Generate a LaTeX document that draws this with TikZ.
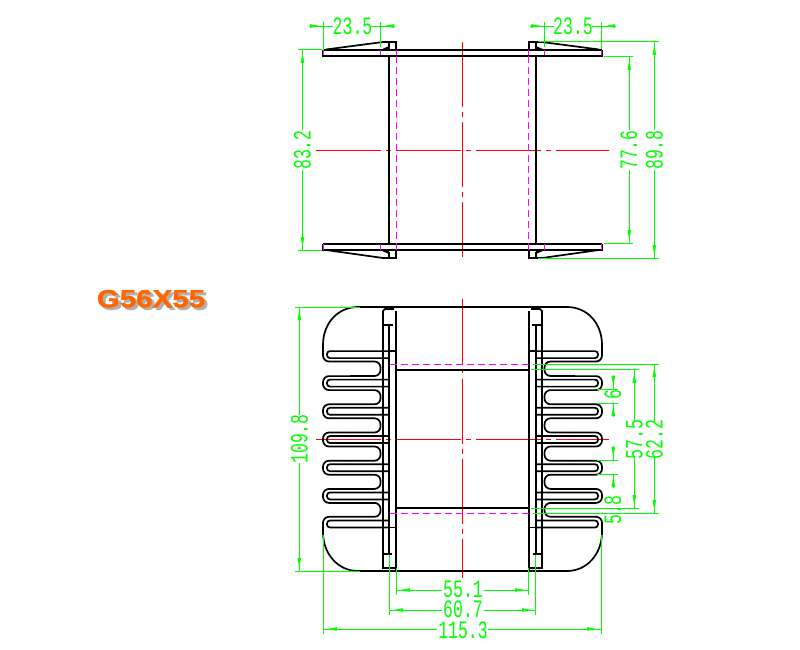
\documentclass[tikz,border=0pt]{standalone}
\usepackage{fontspec}
\usetikzlibrary{arrows.meta}
\newfontfamily\dimfont{Liberation Mono}
\newfontfamily\namefont{Liberation Sans}[BoldFont={Liberation Sans Bold}, BoldFeatures={FakeBold=1.2}]
\definecolor{dimgreen}{RGB}{0,255,0}
\definecolor{centerred}{RGB}{255,0,0}
\definecolor{hiddenpink}{RGB}{255,0,255}
\definecolor{nameorange}{RGB}{255,102,0}
\definecolor{nameshade}{RGB}{175,175,175}
\tikzset{
  outline/.style={black, line width=1.7pt},
  hidden/.style={hiddenpink, line width=1.1pt, dash pattern=on 7pt off 4pt},
  hiddentick/.style={hiddenpink, line width=1.1pt},
  centerline/.style={centerred, line width=1pt},
  dimline/.style={dimgreen, line width=0.9pt},
  dimtip/.style={dimgreen, line width=0.9pt, -{Triangle[length=10pt,width=3.4pt]}},
  dimlabel/.style={dimgreen, inner sep=0pt, font=\dimfont\fontsize{25}{25}\selectfont, xscale=0.66},
  dimlabelv/.style={dimgreen, inner sep=0pt, font=\dimfont\fontsize{25}{25}\selectfont, rotate=90, xscale=0.66}
}
% left half of both views, drawn again mirrored
\newcommand{\bobbinhalf}{
  % upper view
  \draw[outline] (323,50) -- (462.5,50) (323,50) -- (323,56) -- (462.5,56);
  \draw[outline] (323,243.7) -- (462.5,243.7) (323,243.7) -- (323,250) -- (462.5,250);
  \draw[outline] (389,56) -- (389,243.7);
  \draw[outline] (326,49.5) -- (383,42) -- (396,42) -- (396,50) (389,43) -- (389,50);
  \draw[outline] (326,250) -- (383,258) -- (396,258) -- (396,250) (389,252) -- (389,258);
  \fill (380,50) -- (389,46) -- (389,50) -- cycle;
  \fill (380,250) -- (389,250) -- (389,254) -- cycle;
  \draw[hidden] (396.3,56) -- (396.3,243.7);
  \foreach \x in {323.5,380.7,396.3} {
    \draw[hiddentick] (\x,50.5) -- (\x,55.5);
    \draw[hiddentick] (\x,244.2) -- (\x,249.5);
  }
  % lower view
  \draw[outline] (462.5,307) -- (358,307) .. controls (338,307) and (323,323) .. (323,345) -- (323,352);
  \draw[outline] (462.5,571) -- (358,571) .. controls (338,571) and (323,554) .. (323,532) -- (323,526);
  \draw[outline, rounded corners=6pt] (323,350) -- (323,361.5) -- (380.5,361.5) -- (380.5,376) -- (350,376);
  \foreach \c in {383.1,411.3,439.5,467.7} {
    \draw[outline, rounded corners=6pt] ({350},{\c-7}) -- ({323},{\c-7}) -- ({323},{\c+7}) -- ({380.5},{\c+7}) -- ({380.5},{\c+21.2}) -- ({350},{\c+21.2});
  }
  \draw[outline, rounded corners=6pt] (350,488.9) -- (323,488.9) -- (323,502.9) -- (380.5,502.9) -- (380.5,516.8) -- (323,516.8) -- (323,530);
  \foreach \c in {354.6,383.1,411.3,439.5,467.7,495.9,524} {
    \draw[outline, rounded corners=3pt] ({389},{\c-3.5}) -- ({327},{\c-3.5}) -- ({327},{\c+3.5}) -- ({389},{\c+3.5});
  }
  \draw[outline] (389,351.1) -- (396,351.1) (389,527.5) -- (396,527.5);
  \draw[outline] (394,309) -- (385,309) -- (383,311) -- (383,568) -- (396,568);
  \draw[outline] (396,311) -- (396,571) (389,325) -- (389,554);
  \draw[outline] (383,325) -- (393,325) (384,554) -- (392,554);
}

\begin{document}
\begin{tikzpicture}[x=1pt, y=-1pt]

\useasboundingbox (0,0) rectangle (800,650);
\fill[white] (0,0) rectangle (800,650);

% center lines
\foreach \y in {150.3,439.3} {
  \foreach \a/\b in {316/380.7,386/391,396/461,466/471,476/540.7,546/551,556/609} {
    \draw[centerline] (\a,\y) -- (\b,\y);
  }
}
\foreach \a/\b in {42/106.7,112/117,122.3/186.7,192/197,202/256.7,299/364,369/373,379/444,449/454,459/524,529/534,539/578} {
  \draw[centerline] (462.3,\a) -- (462.3,\b);
}

\bobbinhalf
\begin{scope}[xshift=925pt, xscale=-1]
  \bobbinhalf
\end{scope}

\draw[outline] (396,370) -- (529,370) (396,508) -- (529,508);
\draw[hidden] (390,364.6) -- (535,364.6) (390,513.3) -- (535,513.3);

% extension lines
\draw[dimline] (323.5,22) -- (323.5,50) (380.6,22) -- (380.6,47);
\draw[dimline] (544.4,22) -- (544.4,47) (601.4,22) -- (601.4,49);
\draw[dimline] (298,49.5) -- (322,49.5) (298,250) -- (322,250);
\draw[dimline] (604,56.5) -- (633,56.5) (604,243.5) -- (633,243.5);
\draw[dimline] (538,41.5) -- (659,41.5) (538,258) -- (659,258);
\draw[dimline] (295,307) -- (360,307) (295,571) -- (360,571);
\draw[dimline] (597,389.3) -- (618,389.3) (597,403.3) -- (618,403.3);
\draw[dimline] (597,460) -- (618,460) (597,474.3) -- (618,474.3);
\draw[dimline] (531,369.3) -- (639,369.3) (531,508.3) -- (639,508.3);
\draw[dimline] (533,364.3) -- (659,364.3) (533,513.3) -- (659,513.3);
\draw[dimline] (396.5,568) -- (396.5,595) (528.7,568) -- (528.7,595);
\draw[dimline] (389.5,555) -- (389.5,615) (535.5,555) -- (535.5,615);
\draw[dimline] (323.3,535) -- (323.3,634) (601.3,535) -- (601.3,634);

% dimension lines
\draw[dimline] (309,26) -- (333,26) (371,26) -- (395,26);
\draw[dimline] (530,26) -- (554,26) (592,26) -- (616,26);
\draw[dimline] (302.5,50) -- (302.5,130) (302.5,170) -- (302.5,250);
\draw[dimline] (629.3,56.5) -- (629.3,130) (629.3,170) -- (629.3,243.5);
\draw[dimline] (654.3,41.5) -- (654.3,130) (654.3,170) -- (654.3,258);
\draw[dimline] (299.3,307) -- (299.3,415) (299.3,463) -- (299.3,571);
\draw[dimline] (613.3,375) -- (613.3,389.3) (613.3,403.3) -- (613.3,417);
\draw[dimline] (613.3,446) -- (613.3,460) (613.3,474.3) -- (613.3,488);
\draw[dimline] (634.3,369.3) -- (634.3,422) (634.3,457) -- (634.3,508.3);
\draw[dimline] (654.3,364.3) -- (654.3,422) (654.3,457) -- (654.3,513.3);
\draw[dimline] (396.5,590) -- (442,590) (483.5,590) -- (528.7,590);
\draw[dimline] (389.5,610) -- (442,610) (483.5,610) -- (535.5,610);
\draw[dimline] (323.3,629) -- (437,629) (488,629) -- (601.3,629);

% arrow heads
\foreach \ax/\ay/\bx/\by in {309/26/320/26,395/26/384/26,530/26/541/26,616/26/605/26,
  302.5/64/302.5/53,302.5/236/302.5/247,654.3/56/654.3/45,654.3/244/654.3/255,
  629.3/71/629.3/60,629.3/229/629.3/240,299.3/321/299.3/310,299.3/558/299.3/568,
  613.3/375/613.3/386,613.3/417/613.3/406,613.3/446/613.3/457,613.3/488/613.3/477,
  634.3/383/634.3/373,634.3/494/634.3/505,654.3/377/654.3/367,654.3/500/654.3/510,
  411/590/400/590,514/590/525/590,404/610/393/610,522/610/532/610,
  338/629/327/629,587/629/597/629} {
  \draw[dimtip] (\ax,\ay) -- (\bx,\by);
}

% dimension texts
\node[dimlabel] (topleft) at (352.5,26) {23.5};
\node[dimlabel] (topright) at (573,26) {23.5};
\node[dimlabelv] (flangeinner) at (302.5,150) {83.2};
\node[dimlabelv] (flangegap) at (629,150) {77.6};
\node[dimlabelv] (overall) at (654.5,150) {89.8};
\node[dimlabelv] (height) at (299.5,439) {109.8};
\node[dimlabelv] (finpitch) at (613,395) {6};
\node[dimlabelv] (finwidth) at (613,510) {5.8};
\node[dimlabelv] (windowin) at (634.5,439.5) {57.5};
\node[dimlabelv] (windowout) at (654.5,439.5) {62.2};
\node[dimlabel] (bodyin) at (463,589.5) {55.1};
\node[dimlabel] (bodyout) at (463,609) {60.7};
\node[dimlabel] (width) at (463,630) {115.3};

% part name, shadow in the same node
\node[nameorange, inner sep=0pt, font=\namefont\bfseries\fontsize{25}{25}\selectfont, xscale=1.18] (partname) at (151,300)
  {\rlap{\hspace{2.5pt}\raisebox{-2.5pt}{\textcolor{nameshade}{G56X55}}}G56X55};

\end{tikzpicture}
\end{document}
